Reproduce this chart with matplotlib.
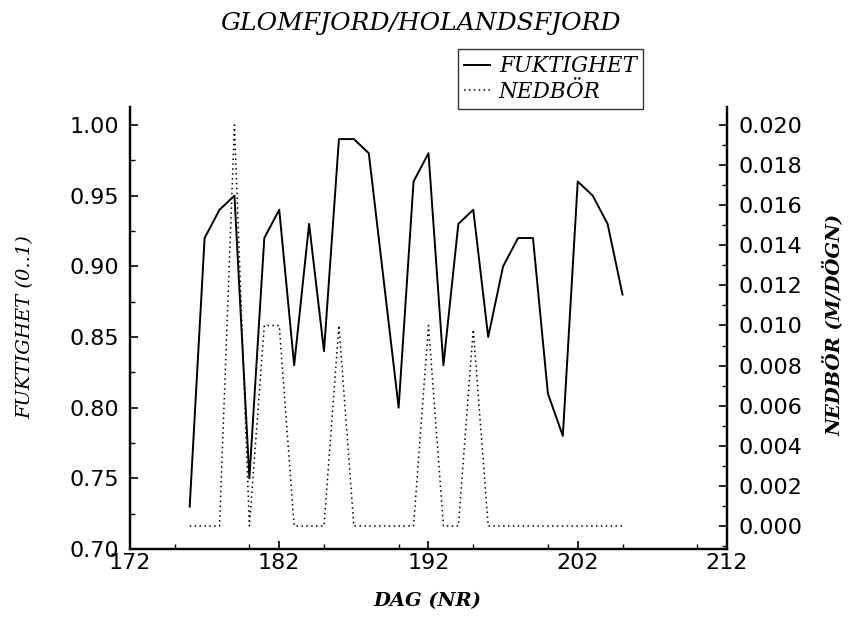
import numpy as np
from matplotlib import pyplot as plt
from matplotlib.ticker import MultipleLocator, FormatStrFormatter

# day numbers (NR)
days = [176, 177, 178, 179, 180, 181, 182, 183, 184, 185,
        186, 187, 188, 189, 190, 191, 192, 193, 194, 195,
        196, 197, 198, 199, 200, 201, 202, 203, 204, 205]

# humidity (0..1)
fuktighet = [0.73, 0.92, 0.94, 0.95, 0.75, 0.92, 0.94, 0.83, 0.93, 0.84,
             0.99, 0.99, 0.98, 0.89, 0.80, 0.96, 0.98, 0.83, 0.93, 0.94,
             0.85, 0.90, 0.92, 0.92, 0.81, 0.78, 0.96, 0.95, 0.93, 0.88]

# precipitation (m/day)
nedbor = [0.0, 0.0, 0.0, 0.020, 0.0, 0.010, 0.010, 0.0, 0.0, 0.0,
          0.010, 0.0, 0.0, 0.0, 0.0, 0.0, 0.010, 0.0, 0.0, 0.0098,
          0.0, 0.0, 0.0, 0.0, 0.0, 0.0, 0.0, 0.0, 0.0, 0.0]

x_ticks = [172, 182, 192, 202, 212]

serif_it = dict(family="DejaVu Serif", style="italic")


def style_axis(ax):
    """
    Inward ticks, thick spines, no top spine
    """
    ax.spines["top"].set_visible(False)
    for side in ["left", "right", "bottom"]:
        ax.spines[side].set_linewidth(1.6)
    ax.tick_params(which="major", direction="in", length=6, width=1.2, labelsize=16, pad=8)
    ax.tick_params(which="minor", direction="in", length=3.5, width=1.0)


def main():
    fig = plt.figure(figsize=(8.49, 6.17), dpi=100)
    ax = fig.add_axes([0.1531, 0.1102, 0.7032, 0.7164])
    ax2 = ax.twinx()

    line1, = ax.plot(days, fuktighet, color="black", lw=1.4)
    line2, = ax2.plot(days, nedbor, color="black", lw=1.1, linestyle=(0, (1, 2.2)))

    ax.set_xlim(172, 212)
    ax.set_ylim(0.70, 1.0127)
    ax2.set_ylim(-0.00115, 0.0209)

    ax.set_xticks(x_ticks)
    ax.xaxis.set_minor_locator(MultipleLocator(5))
    ax.set_yticks(np.arange(0.70, 1.001, 0.05))
    ax.yaxis.set_minor_locator(MultipleLocator(0.025))
    ax.yaxis.set_major_formatter(FormatStrFormatter("%.2f"))
    ax2.set_yticks(np.arange(0.0, 0.0201, 0.002))
    ax2.yaxis.set_minor_locator(MultipleLocator(0.001))
    ax2.yaxis.set_major_formatter(FormatStrFormatter("%.3f"))

    style_axis(ax)
    style_axis(ax2)
    ax.tick_params(axis="x", pad=3)

    # labels and title
    fig.text(0.030, 0.47, "FUKTIGHET (0..1)", rotation=90, ha="center", va="center",
             fontsize=14, **serif_it)
    fig.text(0.981, 0.473, "NEDBÖR (M/DÖGN)", rotation=90, ha="center", va="center",
             fontsize=14, fontweight="bold", **serif_it)
    fig.text(0.504, 0.025, "DAG (NR)", ha="center", va="center",
             fontsize=14, fontweight="bold", **serif_it)
    fig.text(0.496, 0.962, "GLOMFJORD/HOLANDSFJORD", ha="center", va="center",
             fontsize=18, **serif_it)

    leg = fig.legend([line1, line2], ["FUKTIGHET", "NEDBÖR"],
                     loc="upper left", bbox_to_anchor=(458 / 849, 1 - 49 / 617),
                     borderaxespad=0, fancybox=False, edgecolor="black",
                     handlelength=1.2, handletextpad=0.4, labelspacing=0.15,
                     borderpad=0.3, prop=dict(size=15.5, **serif_it))
    leg.get_frame().set_linewidth(1.0)

    fig.savefig("out.png", dpi=100)


if __name__ == "__main__":
    main()
